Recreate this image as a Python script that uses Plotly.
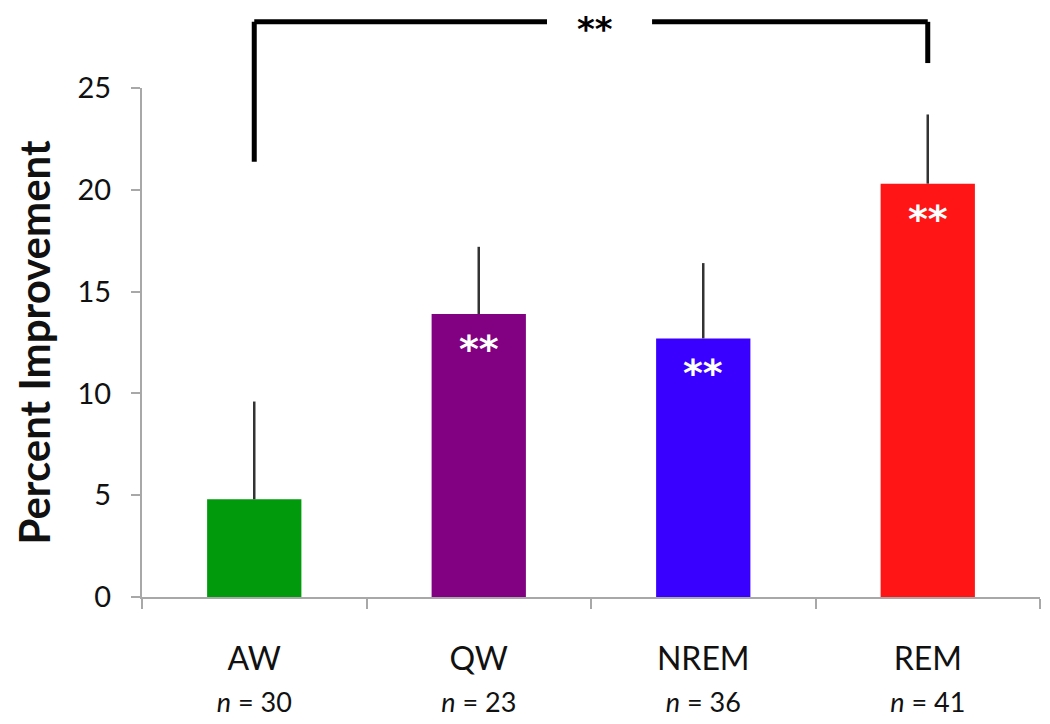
import plotly.graph_objects as go

categories = ["AW", "QW", "NREM", "REM"]
n_values = [30, 23, 36, 41]
means = [4.8, 13.9, 12.7, 20.3]
errors = [4.8, 3.3, 3.7, 3.4]
colors = ["#009a0c", "#820082", "#3a00ff", "#ff1515"]
sig_within = ["", "**", "**", "**"]
y_ticks = [0, 5, 10, 15, 20, 25]

FONT = "Lato"

fig = go.Figure()
fig.add_trace(go.Bar(
    x=categories, y=means,
    marker=dict(color=colors, line=dict(width=0)),
    width=0.42,
    error_y=dict(type="data", symmetric=False, array=errors,
                 arrayminus=[0] * len(errors), width=0,
                 color="#333333", thickness=2.5),
    showlegend=False,
))

tick_text = [f"{c}<br><span style='font-size:27px'><i>n</i> = {n}</span>"
             for c, n in zip(categories, n_values)]

for c, m, s in zip(categories, means, sig_within):
    if s:
        fig.add_annotation(x=c, y=m, xref="x", yref="y", text=f"<b>{s}</b>",
                           showarrow=False, yshift=-35,
                           font=dict(family="DejaVu Sans", size=38, color="white"))

# comparison bracket between AW and REM
n_cat = len(categories)
x_left = (categories.index("AW") + 0.5) / n_cat
x_right = (categories.index("REM") + 0.5) / n_cat
y_top = 1.13
line = dict(color="black", width=5)
fig.add_shape(type="line", xref="paper", yref="paper",
              x0=x_left, x1=x_left, y0=0.855, y1=y_top, line=line)
fig.add_shape(type="line", xref="paper", yref="paper",
              x0=x_left, x1=0.451, y0=y_top, y1=y_top, line=line)
fig.add_shape(type="line", xref="paper", yref="paper",
              x0=0.568, x1=x_right, y0=y_top, y1=y_top, line=line)
fig.add_shape(type="line", xref="paper", yref="paper",
              x0=x_right, x1=x_right, y0=1.049, y1=y_top, line=line)
fig.add_annotation(x=0.505, y=y_top, xref="paper", yref="paper", text="<b>**</b>",
                   showarrow=False, yshift=15,
                   font=dict(family="DejaVu Sans", size=34, color="black"))

fig.update_layout(
    width=1050, height=724,
    margin=dict(l=134, r=18, t=80, b=135),
    paper_bgcolor="white", plot_bgcolor="white",
    font=dict(family=FONT, color="#111111"),
)
fig.update_xaxes(
    type="category", tickmode="array", tickvals=categories, ticktext=tick_text,
    tickson="boundaries", ticks="outside", ticklen=10, tickwidth=2,
    tickcolor="#a8a8a8", showline=True, linecolor="#a8a8a8", linewidth=2,
    showgrid=False, tickfont=dict(size=32, family=FONT, color="#111111"),
    ticklabelstandoff=33,
    range=[-0.5, 3.5],
)
fig.update_yaxes(
    range=[0, 25], tickmode="array", tickvals=y_ticks,
    ticks="outside", ticklen=9, tickwidth=2, tickcolor="#a8a8a8",
    showline=True, linecolor="#a8a8a8", linewidth=2, showgrid=False,
    zeroline=False, tickfont=dict(size=29, family=FONT, color="#111111"),
    ticklabelstandoff=14,
    title=dict(text="<b>Percent Improvement</b>", font=dict(size=42, family=FONT),
               standoff=14),
)

fig.write_html("out.html")
